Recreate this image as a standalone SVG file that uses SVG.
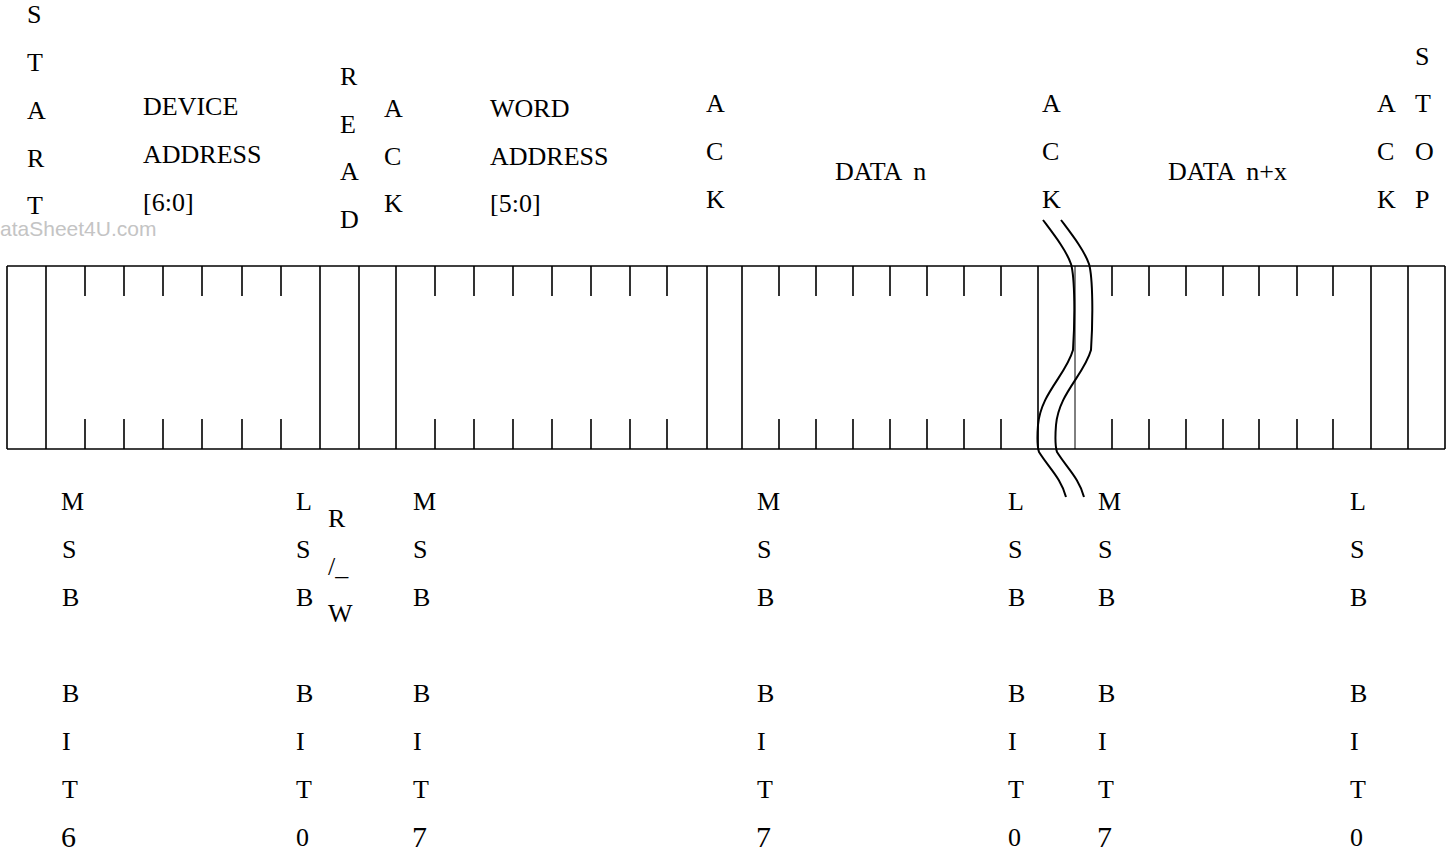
<svg xmlns="http://www.w3.org/2000/svg" width="1454" height="854" viewBox="0 0 1454 854">
<style>
.t{font-size:26px;fill:#000}
.d{font-size:30px;fill:#000}
.wm{font-size:21px;fill:#c4c4c4}
.ln{stroke:#000;stroke-width:1.6;fill:none}
.thin{stroke:#000;stroke-width:1;fill:none}
.brk{stroke:#000;stroke-width:2;fill:none}
</style>
<defs>
<path id="wave" d="M1043,220 C1055,236 1066,250 1071,264 C1075,278 1075,320 1073,350 C1066,375 1041,393 1038,425 C1037,438 1037,446 1039,452 C1049,468 1061,478 1066,497"/>
</defs>
<rect width="1454" height="854" fill="#fff"/>
<text class="wm" font-family="Liberation Sans, Arial, sans-serif" x="0" y="236">ataSheet4U.com</text>

<g id="frame">
<line class="ln" x1="7" y1="266" x2="1445" y2="266"/>
<line class="ln" x1="7" y1="449" x2="1445" y2="449"/>
<path class="ln" d="M7,266V449M46,266V449M320,266V449M359,266V449M396,266V449M707,266V449M742,266V449M1038,266V449M1371,266V449M1408,266V449M1445,266V449"/>
<line class="thin" x1="1075" y1="266" x2="1075" y2="449"/>
<path class="ln" d="M85,266v30M124,266v30M163,266v30M202,266v30M242,266v30M281,266v30M85,419v30M124,419v30M163,419v30M202,419v30M242,419v30M281,419v30"/>
<path class="ln" d="M435,266v30M474,266v30M513,266v30M552,266v30M591,266v30M630,266v30M667,266v30M435,419v30M474,419v30M513,419v30M552,419v30M591,419v30M630,419v30M667,419v30"/>
<path class="ln" d="M779,266v30M816,266v30M853,266v30M890,266v30M927,266v30M964,266v30M1001,266v30M779,419v30M816,419v30M853,419v30M890,419v30M927,419v30M964,419v30M1001,419v30"/>
<path class="ln" d="M1112,266v30M1149,266v30M1186,266v30M1223,266v30M1259,266v30M1297,266v30M1333,266v30M1112,419v30M1149,419v30M1186,419v30M1223,419v30M1259,419v30M1297,419v30M1333,419v30"/>
</g>

<g id="break">
<use href="#wave" class="brk"/>
<use href="#wave" class="brk" transform="translate(18,0)"/>
</g>

<g font-family="Liberation Serif, Times New Roman, DejaVu Serif, serif">
<g id="start">
<text class="t" x="27" y="23">S</text>
<text class="t" x="27" y="71">T</text>
<text class="t" x="27" y="119">A</text>
<text class="t" x="27" y="167">R</text>
<text class="t" x="27" y="214">T</text>
</g>
<g id="device-address">
<text class="t" x="143" y="115">DEVICE</text>
<text class="t" x="143" y="163">ADDRESS</text>
<text class="t" x="143" y="211">[6:0]</text>
</g>
<g id="read">
<text class="t" x="340" y="85">R</text>
<text class="t" x="340" y="133">E</text>
<text class="t" x="340" y="180">A</text>
<text class="t" x="340" y="228">D</text>
</g>
<g id="ack1">
<text class="t" x="384" y="117">A</text>
<text class="t" x="384" y="165">C</text>
<text class="t" x="384" y="212">K</text>
</g>
<g id="word-address">
<text class="t" x="490" y="117">WORD</text>
<text class="t" x="490" y="165">ADDRESS</text>
<text class="t" x="490" y="212">[5:0]</text>
</g>
<g id="ack2">
<text class="t" x="706" y="112">A</text>
<text class="t" x="706" y="160">C</text>
<text class="t" x="706" y="208">K</text>
</g>
<g id="data-n">
<text class="t" x="835" y="180">DATA <tspan dx="6">n</tspan></text>
</g>
<g id="ack3">
<text class="t" x="1042" y="112">A</text>
<text class="t" x="1042" y="160">C</text>
<text class="t" x="1042" y="208">K</text>
</g>
<g id="data-nx">
<text class="t" x="1168" y="180">DATA <tspan dx="6">n+x</tspan></text>
</g>
<g id="ack4">
<text class="t" x="1377" y="112">A</text>
<text class="t" x="1377" y="160">C</text>
<text class="t" x="1377" y="208">K</text>
</g>
<g id="stop">
<text class="t" x="1415" y="65">S</text>
<text class="t" x="1415" y="112">T</text>
<text class="t" x="1415" y="160">O</text>
<text class="t" x="1415" y="208">P</text>
</g>

<g id="msb-bit6">
<text class="t" x="61" y="510">M</text>
<text class="t" x="62" y="558">S</text>
<text class="t" x="62" y="606">B</text>
<text class="t" x="62" y="702">B</text>
<text class="t" x="62" y="750">I</text>
<text class="t" x="62" y="798">T</text>
<text class="d" x="61" y="847">6</text>
</g>
<g id="lsb-bit0-a">
<text class="t" x="296" y="510">L</text>
<text class="t" x="296" y="558">S</text>
<text class="t" x="296" y="606">B</text>
<text class="t" x="296" y="702">B</text>
<text class="t" x="296" y="750">I</text>
<text class="t" x="296" y="798">T</text>
<text class="t" x="296" y="846">0</text>
</g>
<g id="rw">
<text class="t" x="328" y="527">R</text>
<text class="t" x="328" y="575">/_</text>
<text class="t" x="328" y="622">W</text>
</g>
<g id="msb-bit7-a">
<text class="t" x="413" y="510">M</text>
<text class="t" x="413" y="558">S</text>
<text class="t" x="413" y="606">B</text>
<text class="t" x="413" y="702">B</text>
<text class="t" x="413" y="750">I</text>
<text class="t" x="413" y="798">T</text>
<text class="d" x="412" y="847">7</text>
</g>
<g id="msb-bit7-b">
<text class="t" x="757" y="510">M</text>
<text class="t" x="757" y="558">S</text>
<text class="t" x="757" y="606">B</text>
<text class="t" x="757" y="702">B</text>
<text class="t" x="757" y="750">I</text>
<text class="t" x="757" y="798">T</text>
<text class="d" x="756" y="847">7</text>
</g>
<g id="lsb-bit0-b">
<text class="t" x="1008" y="510">L</text>
<text class="t" x="1008" y="558">S</text>
<text class="t" x="1008" y="606">B</text>
<text class="t" x="1008" y="702">B</text>
<text class="t" x="1008" y="750">I</text>
<text class="t" x="1008" y="798">T</text>
<text class="t" x="1008" y="846">0</text>
</g>
<g id="msb-bit7-c">
<text class="t" x="1098" y="510">M</text>
<text class="t" x="1098" y="558">S</text>
<text class="t" x="1098" y="606">B</text>
<text class="t" x="1098" y="702">B</text>
<text class="t" x="1098" y="750">I</text>
<text class="t" x="1098" y="798">T</text>
<text class="d" x="1097" y="847">7</text>
</g>
<g id="lsb-bit0-c">
<text class="t" x="1350" y="510">L</text>
<text class="t" x="1350" y="558">S</text>
<text class="t" x="1350" y="606">B</text>
<text class="t" x="1350" y="702">B</text>
<text class="t" x="1350" y="750">I</text>
<text class="t" x="1350" y="798">T</text>
<text class="t" x="1350" y="846">0</text>
</g>
</g>
</svg>
